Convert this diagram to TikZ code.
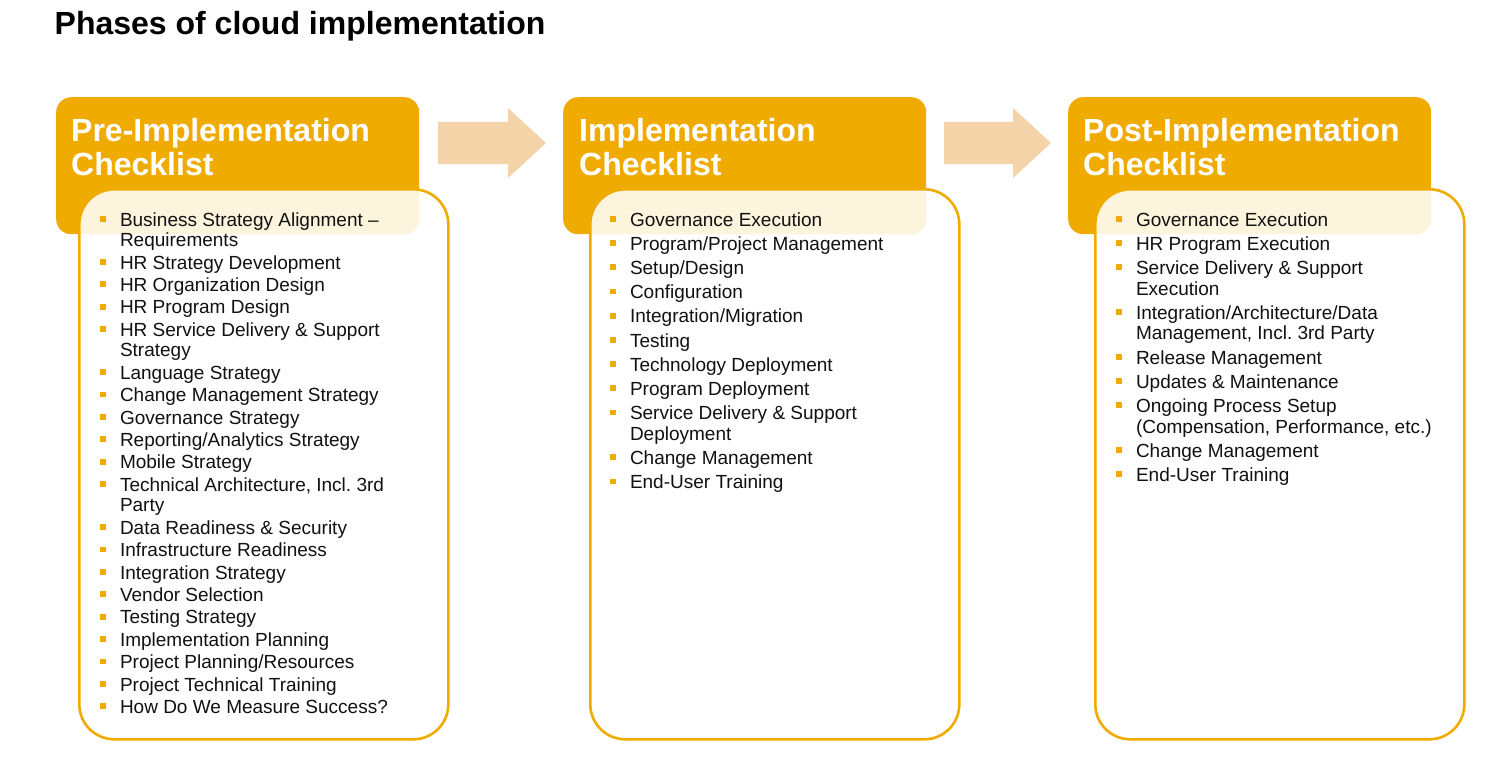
\documentclass[tikz,border=0pt]{standalone}
\usepackage{fontspec}
\setmainfont{Liberation Sans}
\usepackage{array}
\frenchspacing

\definecolor{sapgold}{RGB}{240,171,0}
\definecolor{peach}{RGB}{245,211,168}
\definecolor{ink}{RGB}{17,17,17}

% small square bullet used in the checklists
\newcommand{\chkbullet}{\textcolor{sapgold}{\rule[4.2pt]{5.8pt}{5.8pt}}}

\begin{document}
\begin{tikzpicture}[x=1pt, y=-1pt,
  phasehead/.style={fill=sapgold, rounded corners=15pt, inner sep=0pt,
    anchor=north west, minimum width=363pt, minimum height=137pt},
  phasebody/.style={fill=white, fill opacity=0.87, draw=sapgold, draw opacity=1,
    line width=2.6pt, rounded corners=35pt, inner sep=0pt, anchor=north west,
    minimum width=369pt, minimum height=550pt},
  headtext/.style={anchor=base west, inner sep=0pt, text=white,
    font=\fontsize{32}{34}\selectfont\bfseries},
  listtext/.style={anchor=base west, inner sep=0pt, text=ink,
    font=\fontsize{19}{20.6}\selectfont},
  flowarrow/.style={fill=peach},
  titletext/.style={anchor=base west, inner sep=0pt, text=black,
    font=\fontsize{32}{36}\selectfont\bfseries}
]
\useasboundingbox (0,0) rectangle (1509,757);

% title
\node[titletext] (title) at (54.5,35) {Phases of cloud implementation};

% block arrows between the phases
\fill[flowarrow] (438,122) -- (508,122) -- (508,108) -- (546,143) -- (508,178)
  -- (508,164) -- (438,164) -- cycle;
\fill[flowarrow] (944,122) -- (1013,122) -- (1013,108) -- (1051,143) -- (1013,178)
  -- (1013,164) -- (944,164) -- cycle;

% phase headers
\node[phasehead] (head1) at (56,97) {};
\node[phasehead] (head2) at (563,97) {};
\node[phasehead] (head3) at (1068,97) {};

\node[headtext] (head1a) at (71,142) {Pre-Implementation};
\node[headtext] (head1b) at (71,175) {Checklist};
\node[headtext] (head2a) at (579,142) {Implementation};
\node[headtext] (head2b) at (579,175) {Checklist};
\node[headtext] (head3a) at (1083,142) {Post-Implementation};
\node[headtext] (head3b) at (1083,175) {Checklist};

% checklist panels
\node[phasebody] (body1) at (78,188) {};
\node[phasebody] (body2) at (589,188) {};
\node[phasebody] (body3) at (1094,188) {};

% pre-implementation items
\node[listtext] (list1) at (100,226) {%
\begin{tabular}[t]{@{}l@{\hspace{14pt}}l@{}}
\chkbullet & Business Strategy Alignment –\\
           & Requirements\\[1.8pt]
\chkbullet & HR Strategy Development\\[1.8pt]
\chkbullet & HR Organization Design\\[1.8pt]
\chkbullet & HR Program Design\\[1.8pt]
\chkbullet & HR Service Delivery \& Support\\
           & Strategy\\[1.8pt]
\chkbullet & Language Strategy\\[1.8pt]
\chkbullet & Change Management Strategy\\[1.8pt]
\chkbullet & Governance Strategy\\[1.8pt]
\chkbullet & Reporting/Analytics Strategy\\[1.8pt]
\chkbullet & Mobile Strategy\\[1.8pt]
\chkbullet & Technical Architecture, Incl. 3rd\\
           & Party\\[1.8pt]
\chkbullet & Data Readiness \& Security\\[1.8pt]
\chkbullet & Infrastructure Readiness\\[1.8pt]
\chkbullet & Integration Strategy\\[1.8pt]
\chkbullet & Vendor Selection\\[1.8pt]
\chkbullet & Testing Strategy\\[1.8pt]
\chkbullet & Implementation Planning\\[1.8pt]
\chkbullet & Project Planning/Resources\\[1.8pt]
\chkbullet & Project Technical Training\\[1.8pt]
\chkbullet & How Do We Measure Success?
\end{tabular}};

% implementation items
\node[listtext] (list2) at (610,226) {%
\begin{tabular}[t]{@{}l@{\hspace{14pt}}l@{}}
\chkbullet & Governance Execution\\[3.6pt]
\chkbullet & Program/Project Management\\[3.6pt]
\chkbullet & Setup/Design\\[3.6pt]
\chkbullet & Configuration\\[3.6pt]
\chkbullet & Integration/Migration\\[3.6pt]
\chkbullet & Testing\\[3.6pt]
\chkbullet & Technology Deployment\\[3.6pt]
\chkbullet & Program Deployment\\[3.6pt]
\chkbullet & Service Delivery \& Support\\
           & Deployment\\[3.6pt]
\chkbullet & Change Management\\[3.6pt]
\chkbullet & End-User Training
\end{tabular}};

% post-implementation items
\node[listtext] (list3) at (1116,226) {%
\begin{tabular}[t]{@{}l@{\hspace{14pt}}l@{}}
\chkbullet & Governance Execution\\[3.6pt]
\chkbullet & HR Program Execution\\[3.6pt]
\chkbullet & Service Delivery \& Support\\
           & Execution\\[3.6pt]
\chkbullet & Integration/Architecture/Data\\
           & Management, Incl. 3rd Party\\[3.6pt]
\chkbullet & Release Management\\[3.6pt]
\chkbullet & Updates \& Maintenance\\[3.6pt]
\chkbullet & Ongoing Process Setup\\
           & (Compensation, Performance, etc.)\\[3.6pt]
\chkbullet & Change Management\\[3.6pt]
\chkbullet & End-User Training
\end{tabular}};
\end{tikzpicture}
\end{document}
